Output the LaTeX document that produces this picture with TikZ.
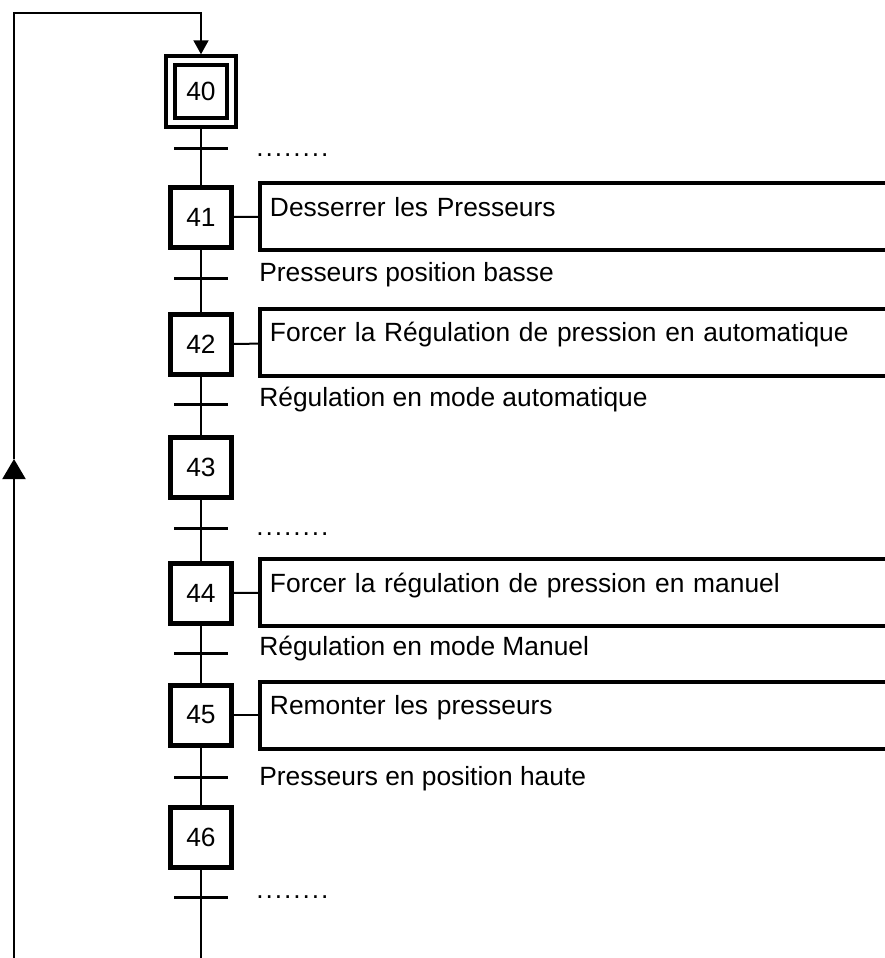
\documentclass[tikz,border=0pt]{standalone}
\usepackage{fontspec}
\setmainfont{Liberation Sans}
\usetikzlibrary{arrows.meta}
\newcommand{\pointilles}{.\kern1.1pt.\kern1.1pt.\kern1.1pt.\kern1.1pt.\kern1.1pt.\kern1.1pt.\kern1.1pt.}

\begin{document}
\begin{tikzpicture}[x=0.02cm, y=-0.02cm,
  stepbox/.style={draw, line width=0.1cm, minimum width=1.22cm, minimum height=1.2cm, inner sep=0pt, font=\fontsize{15}{18}\selectfont},
  initbox/.style={stepbox, double, line width=0.08cm, double distance=0.09cm, minimum width=1.22cm, minimum height=1.24cm, outer sep=0.125cm},
  actbox/.style={draw, line width=0.08cm, anchor=west, text width=12.44cm, align=left, inner xsep=0.2cm, inner ysep=0pt, text height=0.66cm, text depth=0.68cm, font=\fontsize{15}{18}\selectfont},
  trans/.style={fill=black, minimum width=1.08cm, minimum height=0.06cm, inner sep=0pt, outer sep=0pt},
  recep/.style={anchor=base west, inner sep=0pt, font=\fontsize{15}{18}\selectfont},
  link/.style={line width=0.04cm}]
  \useasboundingbox (0,0) rectangle (885,958);
  \clip (0,0) rectangle (885,958);

  \node[initbox] (s40) at (201,91.5) {40};
  \node[stepbox] (s41) at (201,217) {41};
  \node[stepbox] (s42) at (201,344) {42};
  \node[stepbox] (s43) at (201,467) {43};
  \node[stepbox] (s44) at (201,593) {44};
  \node[stepbox] (s45) at (201,715) {45};
  \node[stepbox] (s46) at (201,837) {46};

  \node[actbox] (a41) at (258,216.5) {Desserrer les Presseurs};
  \node[actbox] (a42) at (258,342) {Forcer la Régulation de pression en automatique};
  \node[actbox] (a44) at (258,592.5) {Forcer la régulation de pression en manuel};
  \node[actbox] (a45) at (258,715) {Remonter les presseurs};

  \node[trans] (t40) at (201,148) {};
  \node[trans] (t41) at (201,278) {};
  \node[trans] (t42) at (201,404) {};
  \node[trans] (t43) at (201,528) {};
  \node[trans] (t44) at (201,653) {};
  \node[trans] (t45) at (201,777) {};
  \node[trans] (t46) at (201,897) {};

  \node[recep] (r40) at (256,156) {\pointilles};
  \node[recep] (r41) at (259,281) {Presseurs position basse};
  \node[recep] (r42) at (259,406) {Régulation en mode automatique};
  \node[recep] (r43) at (256,535) {\pointilles};
  \node[recep] (r44) at (259,655) {Régulation en mode Manuel};
  \node[recep] (r45) at (259,785) {Presseurs en position haute};
  \node[recep] (r46) at (256,898) {\pointilles};

  \coordinate (bot) at (201,962);
  \coordinate (back) at (14,962);
  \coordinate (mid) at (14,459);
  \coordinate (corner) at (14,13);

  \draw[link] (s40) -- (t40) -- (s41);
  \draw[link] (s41) -- (t41) -- (s42);
  \draw[link] (s42) -- (t42) -- (s43);
  \draw[link] (s43) -- (t43) -- (s44);
  \draw[link] (s44) -- (t44) -- (s45);
  \draw[link] (s45) -- (t45) -- (s46);
  \draw[link] (s46) -- (t46) -- (bot);

  \draw[link] (s41) -- (a41);
  \draw[link] (s42) -- (a42);
  \draw[link] (s44) -- (a44);
  \draw[link] (s45) -- (a45);

  \draw[link, -{Triangle[width=0.46cm, length=0.4cm]}] (back) -- (mid);
  \draw[link, -{Triangle[width=0.3cm, length=0.28cm]}] (mid) -- (corner) -| (s40);
\end{tikzpicture}
\end{document}
